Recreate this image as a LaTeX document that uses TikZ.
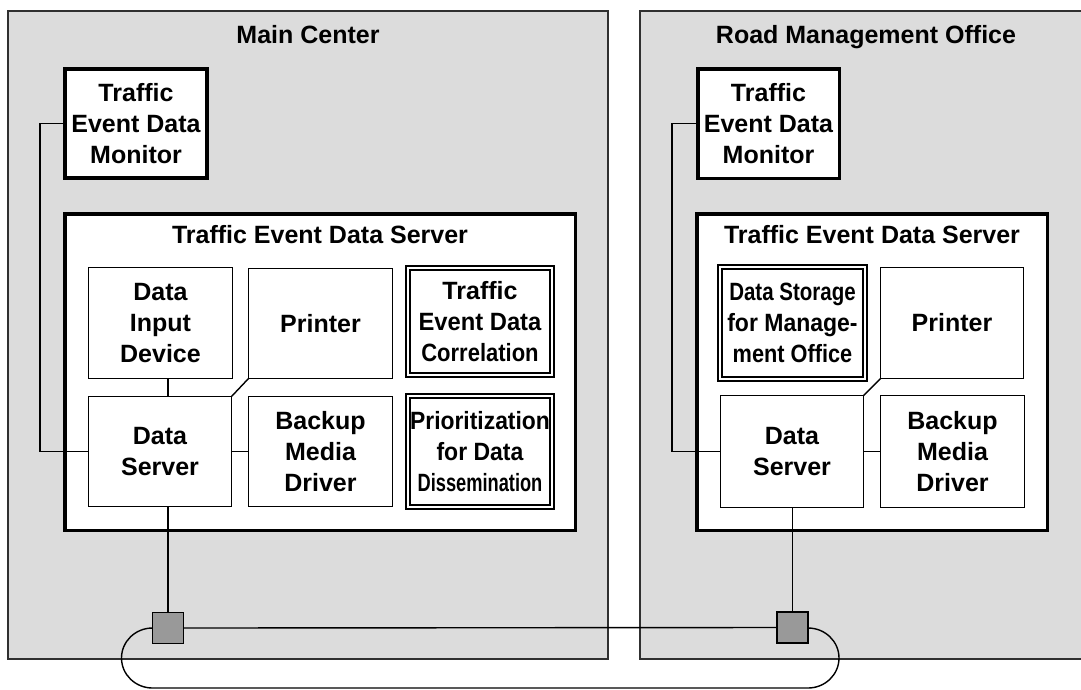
\documentclass[tikz,border=0pt]{standalone}
\usepackage{fontspec}
\usepackage{graphicx}
\setmainfont{Liberation Sans}
\definecolor{panelfill}{HTML}{DCDCDC}
\definecolor{panelline}{HTML}{303030}
\definecolor{hubfill}{HTML}{999999}
\newcommand\lbl{\fontsize{25}{31}\selectfont\bfseries}
\newcommand\squeeze[2]{\scalebox{#1}[1]{#2}}
\begin{document}
\begin{tikzpicture}[x=1pt,y=-1pt,
  panel/.style={draw=panelline, fill=panelfill, line width=1.5pt, inner sep=0, outer sep=0},
  title/.style={font=\lbl, anchor=base, inner sep=0},
  unit/.style={draw, fill=white, line width=1.4pt, align=center, inner sep=0, outer sep=0, font=\lbl},
  heavy/.style={unit, line width=3.5pt},
  dunit/.style={unit, double, double distance=2pt, line width=2.2pt},
  hub/.style={draw, fill=hubfill, line width=1.8pt, minimum size=31, inner sep=0, outer sep=0},
  link/.style={line width=1.4pt}]
\useasboundingbox (0,0) rectangle (1081,689);

% sites
\node[panel, minimum width=600, minimum height=648] (site1) at (308,335) {};
\node[panel, minimum width=450, minimum height=648] (site2) at (865,335) {};
\node[title] (site1t) at (308,43) {Main Center};
\node[title] (site2t) at (866,43) {Road Management Office};

% ---- Main Center ----
\node[heavy, minimum width=142, minimum height=109] (mon1) at (136,123.5) {Traffic\\Event Data\\Monitor};
\node[heavy, minimum width=510.5, minimum height=316.5] (srv1) at (320,372) {};
\node[title] (srv1t) at (320,243) {Traffic Event Data Server};
\node[unit, minimum width=144, minimum height=111] (din1) at (160.5,323) {Data\\Input\\Device};
\node[unit, minimum width=144, minimum height=110] (prn1) at (320.5,323.5) {Printer};
\node[dunit, minimum width=143.6, minimum height=106.6] (cor1) at (480,321.5) {Traffic\\\squeeze{0.95}{Event Data}\\\squeeze{0.88}{Correlation}};
\node[unit, minimum width=143, minimum height=110] (dsv1) at (160,451.5) {Data\\Server};
\node[unit, minimum width=144, minimum height=110] (bkp1) at (320.5,451.5) {Backup\\Media\\Driver};
\node[dunit, minimum width=143.6, minimum height=110.6] (pri1) at (480,451.5) {\squeeze{0.915}{Prioritization}\\\squeeze{0.92}{for Data}\\\squeeze{0.73}{Dissemination}};

% ---- Road Management Office ----
\node[heavy, minimum width=141.5, minimum height=109.5] (mon2) at (768.5,123.5) {Traffic\\Event Data\\Monitor};
\node[heavy, minimum width=350.5, minimum height=316.5] (srv2) at (872,372) {};
\node[title] (srv2t) at (872,243) {Traffic Event Data Server};
\node[dunit, minimum width=144.6, minimum height=111.6] (sto2) at (792.5,323) {\squeeze{0.82}{Data Storage}\\\squeeze{0.92}{for Manage-}\\\squeeze{0.87}{ment Office}};
\node[unit, minimum width=143, minimum height=111] (prn2) at (952,323) {Printer};
\node[unit, minimum width=143, minimum height=112] (dsv2) at (792,451.5) {Data\\Server};
\node[unit, minimum width=144, minimum height=112] (bkp2) at (952.5,451.5) {Backup\\Media\\Driver};

% network hubs
\node[hub] (hub1) at (168,628) {};
\node[hub] (hub2) at (792.5,627.5) {};

% wiring inside the main center
\coordinate (bend1) at (40,123.5);
\draw[link] (mon1.west) -- (bend1) |- (dsv1.west);
\draw[link] (din1.south -| hub1) -- (dsv1.north -| hub1);
\draw[link] (prn1.south west) -- (dsv1.north east);
\draw[link] (dsv1.east) -- (bkp1.west);
\draw[link] (dsv1.south -| hub1) -- (hub1.north);

% wiring inside the road management office
\coordinate (bend2) at (672,123.5);
\draw[link] (mon2.west) -- (bend2) |- (dsv2.west);
\draw[link] (prn2.south west) -- (dsv2.north east);
\draw[link] (dsv2.east) -- (bkp2.west);
\draw[link] (dsv2.south -| hub2) -- (hub2.north);

% ring between the two sites
\draw[link] (hub1.east) -- (hub2.west);
\draw[link] (hub1.west) arc[start angle=270, end angle=90, x radius=31, y radius=30]
  coordinate (ringL) -- (ringL -| hub2.east) coordinate (ringR)
  arc[start angle=90, end angle=-90, x radius=31, y radius=30];
\node[hub] at (hub1) {};
\node[hub] at (hub2) {};
\end{tikzpicture}
\end{document}
